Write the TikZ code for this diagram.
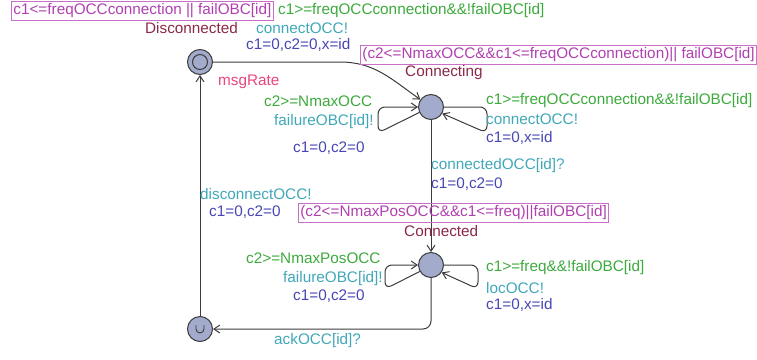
\documentclass[tikz,border=0pt]{standalone}
\usepackage{fontspec}
\setmainfont{Liberation Sans}
\usetikzlibrary{arrows.meta}
\definecolor{invc}{RGB}{176,64,176}
\definecolor{invbox}{RGB}{200,112,200}
\definecolor{guardc}{RGB}{60,170,60}
\definecolor{syncc}{RGB}{64,168,184}
\definecolor{updc}{RGB}{70,70,180}
\definecolor{namec}{RGB}{140,40,70}
\definecolor{ratec}{RGB}{232,70,122}
\definecolor{locfill}{RGB}{163,171,204}
\definecolor{edgec}{RGB}{60,60,60}
\begin{document}
\begin{tikzpicture}[x=1pt,y=1pt,
  every node/.style={font=\fontsize{15.3}{17}\selectfont, inner sep=0pt},
  loc/.style={circle, draw=edgec, fill=locfill, minimum size=25pt, line width=1pt},
  edge/.style={draw=edgec, line width=1pt, -{Straight Barb[length=6pt,width=8pt]}},
  lbl/.style={anchor=west},
  inv/.style={lbl, text=invc, draw=invbox, line width=0.8pt, inner xsep=2pt, inner ysep=2pt, minimum height=17pt},
  guard/.style={lbl, text=guardc},
  sync/.style={lbl, text=syncc},
  upd/.style={lbl, text=updc},
  lname/.style={lbl, text=namec},
  rate/.style={lbl, text=ratec}]
\useasboundingbox (0,0) rectangle (757,-359);

% locations
\node[loc] (dis) at (200,-62) {};
\node[circle, draw=edgec, line width=1pt, minimum size=15pt] (disin) at (dis.center) {};
\node[loc] (con) at (431,-107) {};
\node[loc] (cnd) at (431,-265) {};
\node[loc] (urg) at (200,-329) {};
\draw[edgec, line width=0.9pt] ([shift={(-4,4)}]urg.center) -- ([shift={(-4,0)}]urg.center) arc (180:360:4) -- ([shift={(4,4)}]urg.center);

% edges
\coordinate (bend) at (340,-62);
\draw[edge] (dis.east) -- (bend) to[out=0,in=145] (con.145);
\draw[edge] (con.south) -- (cnd.north);
\draw[edge, rounded corners=8pt] (cnd.south) |- (urg.east);
\draw[edge] (urg.north) -- (dis.south);

% self loops
\coordinate (cl1) at (378,-133);
\coordinate (cl2) at (378,-107);
\draw[edge, rounded corners=7pt] (con.205) -- (cl1) -- (cl2) -- (con.west);
\coordinate (cr1) at (487,-107);
\coordinate (cr2) at (487,-133);
\draw[edge, rounded corners=7pt] (con.east) -- (cr1) -- (cr2) -- (con.330);
\coordinate (dl1) at (385,-289);
\coordinate (dl2) at (385,-265);
\draw[edge, rounded corners=7pt] (cnd.210) -- (dl1) -- (dl2) -- (cnd.west);
\coordinate (dr1) at (478,-265);
\coordinate (dr2) at (478,-289);
\draw[edge, rounded corners=7pt] (cnd.east) -- (dr1) -- (dr2) -- (cnd.325);

% labels
\node[inv] (i1) at (11,-11) {c1<=freqOCCconnection || failOBC[id]};
\node[guard] (g1) at (278,-11) {c1>=freqOCCconnection\&\&!failOBC[id]};
\node[lname] (n1) at (145,-28) {Disconnected};
\node[sync] (s1) at (256,-28) {connectOCC!};
\node[upd] (u1) at (246,-45) {c1=0,c2=0,x=id};
\node[inv] (i2) at (360,-55) {(c2<=NmaxOCC\&\&c1<=freqOCCconnection)|| failOBC[id]};
\node[lname] (n2) at (405,-73) {Connecting};
\node[rate] (r1) at (218,-82) {msgRate};
\node[guard] (g2) at (264,-101) {c2>=NmaxOCC};
\node[sync] (s2) at (274,-122) {failureOBC[id]!};
\node[upd] (u2) at (293,-148) {c1=0,c2=0};
\node[guard] (g3) at (486,-101) {c1>=freqOCCconnection\&\&!failOBC[id]};
\node[sync] (s3) at (486,-119) {connectOCC!};
\node[upd] (u3) at (486,-138) {c1=0,x=id};
\node[sync] (s4) at (431,-166) {connectedOCC[id]?};
\node[upd] (u4) at (431,-184) {c1=0,c2=0};
\node[sync] (s5) at (200,-194) {disconnectOCC!};
\node[upd] (u5) at (209,-212) {c1=0,c2=0};
\node[inv] (i3) at (298,-213) {(c2<=NmaxPosOCC\&\&c1<=freq)||failOBC[id]};
\node[lname] (n3) at (404,-231) {Connected};
\node[guard] (g4) at (246,-258) {c2>=NmaxPosOCC};
\node[sync] (s6) at (283,-279) {failureOBC[id]!};
\node[upd] (u6) at (293,-296) {c1=0,c2=0};
\node[guard] (g5) at (486,-268) {c1>=freq\&\&!failOBC[id]};
\node[sync] (s7) at (486,-288) {locOCC!};
\node[upd] (u7) at (486,-305) {c1=0,x=id};
\node[sync] (s8) at (274,-341) {ackOCC[id]?};
\end{tikzpicture}
\end{document}
